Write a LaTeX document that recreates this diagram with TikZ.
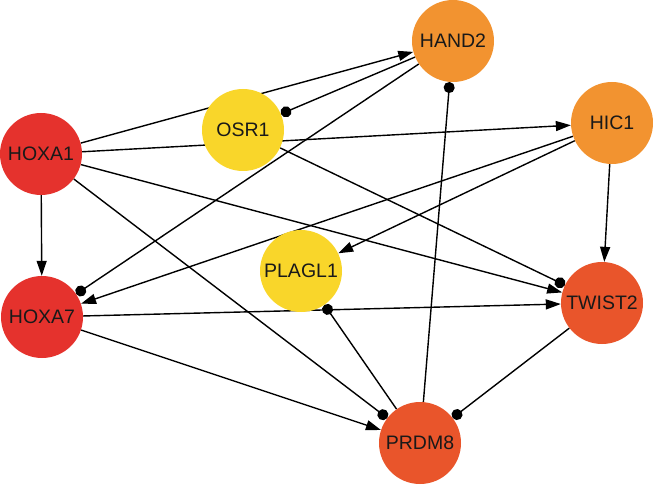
\documentclass[tikz,border=0pt]{standalone}
\usepackage{fontspec}
\setmainfont{Liberation Sans}
\usetikzlibrary{arrows.meta,backgrounds}
\definecolor{cred}{HTML}{E5322D}
\definecolor{corange}{HTML}{F29330}
\definecolor{cyellow}{HTML}{F9D62A}
\definecolor{cvermil}{HTML}{E9552B}
\tikzset{
  gene/.style={circle,minimum size=82pt,inner sep=0pt,font=\fontsize{19.5}{20}\selectfont,text=black!90},
  act/.style={line width=1.4pt,-{Triangle[length=15pt,width=10pt]}},
  inh/.style={line width=1.4pt,-{Circle[length=11pt]}},
}
\begin{document}
\begin{tikzpicture}[x=1pt,y=-1pt]
\useasboundingbox (0,0) rectangle (653,486);
\node[gene,fill=cred] (hoxa1) at (41,154) {HOXA1};
\node[gene,fill=cred] (hoxa7) at (42,317) {HOXA7};
\node[gene,fill=cyellow] (osr1) at (243,130) {OSR1};
\node[gene,fill=cyellow] (plagl1) at (301,271) {PLAGL1};
\node[gene,fill=corange] (hand2) at (453,41) {HAND2};
\node[gene,fill=corange] (hic1) at (612,123) {HIC1};
\node[gene,fill=cvermil] (twist2) at (602,303) {TWIST2};
\node[gene,fill=cvermil] (prdm8) at (420,443) {PRDM8};
\begin{scope}[on background layer]
\draw[act] (hoxa1) -- (hand2);
\draw[act] (hoxa1) -- (hic1);
\draw[act] (hoxa1) -- (hoxa7);
\draw[act] (hoxa1) -- (twist2);
\draw[inh] (hoxa1) -- (prdm8);
\draw[inh] (hand2) -- (osr1);
\draw[inh] (hand2) -- (hoxa7);
\draw[inh] (osr1) -- (twist2);
\draw[act] (hic1) -- (plagl1);
\draw[act] (hic1) -- (hoxa7);
\draw[act] (hic1) -- (twist2);
\draw[inh] (prdm8) -- (hand2);
\draw[act] (hoxa7) -- (twist2);
\draw[act] (hoxa7) -- (prdm8);
\draw[inh] (prdm8) -- (plagl1);
\draw[inh] (twist2) -- (prdm8);
\end{scope}
\end{tikzpicture}
\end{document}
